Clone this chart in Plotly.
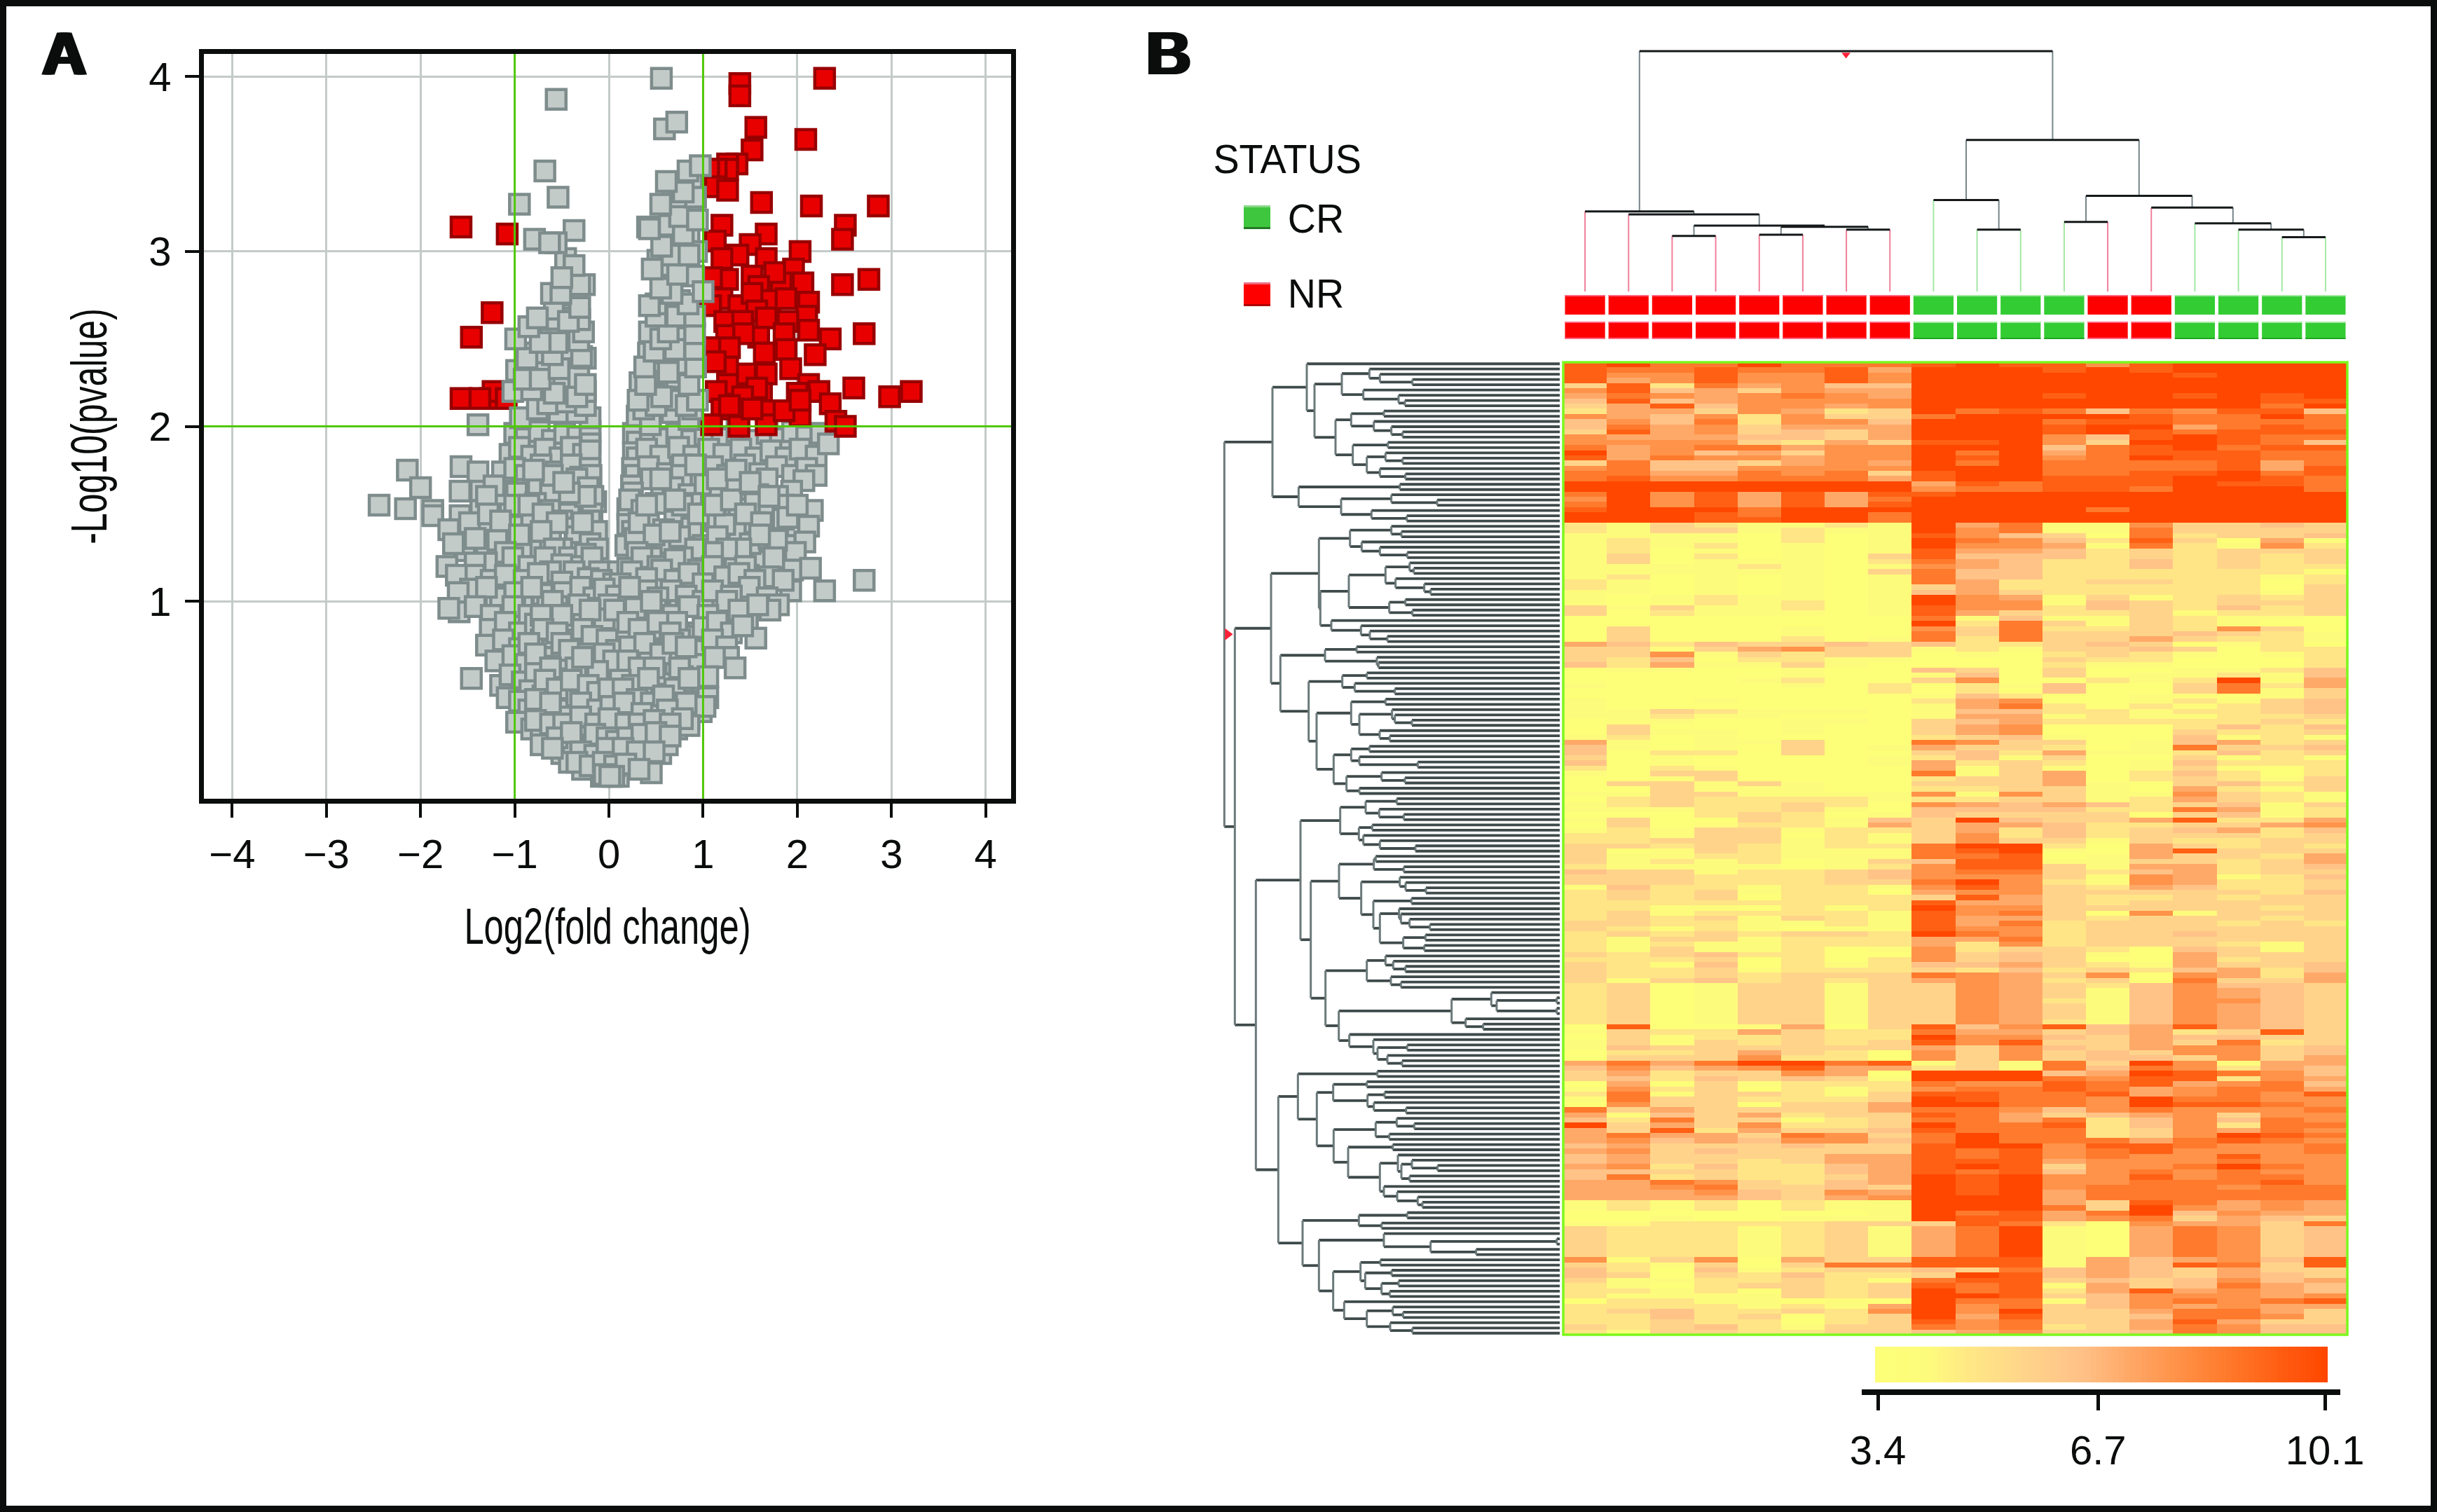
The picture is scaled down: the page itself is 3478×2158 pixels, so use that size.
import numpy as np
import plotly.graph_objects as go

W, H = 3478, 2158
def xp(px): return px / W
def yp(py): return 1 - py / H

# ---------- Panel A: volcano ----------
X_TICKS = [-4, -3, -2, -1, 0, 1, 2, 3, 4]
Y_TICKS = [1, 2, 3, 4]
FC_CUTS = [-1, 1]
P_CUT = 2

GREY_LOW = [
(-1.0,1.96),(-.88,1.93),(-.74,1.97),(-.6,1.92),(-.47,1.96),(-.33,1.94),(-.2,1.97),(-.2,1.9),(.26,1.96),(.3,1.91),(.44,1.97),(.58,1.93),(.72,1.96),(.88,1.92),(1.02,1.95),(1.2,1.93),(1.36,1.97),(1.52,1.92),(1.68,1.96),(1.82,1.93),(1.95,1.97),(2.1,1.94),(2.25,1.96),
(-1.05,1.84),(-.95,1.88),(-.82,1.83),(-.68,1.87),(-.52,1.82),(-.4,1.88),(-.27,1.84),(-.2,1.86),(.26,1.85),(.3,1.82),(.4,1.87),(.55,1.83),(.74,1.88),(.9,1.83),(1.06,1.87),(1.22,1.84),(1.4,1.87),(1.56,1.82),(1.72,1.86),(1.88,1.82),(2.03,1.87),(2.2,1.83),(2.33,1.9),
(-1.57,1.77),(-1.39,1.74),(-1.13,1.74),(-2.14,1.75),(-1.0,1.76),(-.88,1.72),(-.72,1.78),(-.56,1.74),(-.4,1.78),(-.3,1.71),(-.2,1.76),(-.19,1.72),(.25,1.76),(.28,1.72),(.42,1.77),(.62,1.73),(.78,1.78),(.95,1.72),(1.1,1.77),(1.26,1.72),(1.44,1.78),(1.6,1.73),(1.78,1.77),(1.95,1.72),(2.1,1.76),(2.2,1.72),
(-2.0,1.65),(-1.58,1.63),(-1.36,1.63),(-1.11,1.63),(-.88,1.64),(-.67,1.71),(-.34,1.7),(-.5,1.61),(-.35,1.56),(-.14,1.57),(.56,1.61),(.77,1.72),(.45,1.7),(1.46,1.64),(1.68,1.7),(2.07,1.69),(1.94,1.63),(1.79,1.6),
(-1.22,1.66),(-.98,1.62),(-.75,1.67),(-.62,1.62),(-.22,1.65),(-.17,1.6),(.24,1.66),(.25,1.62),(.68,1.65),(.85,1.61),(1.02,1.67),(1.18,1.62),(1.32,1.67),(1.58,1.61),
(-2.44,1.55),(-2.16,1.53),(-1.87,1.52),(-1.87,1.49),(-1.36,1.52),(-1.58,1.49),(-.9,1.49),(2.05,1.5),(2.16,1.52),
(-1.2,1.55),(-1.05,1.5),(-.78,1.56),(-.62,1.52),(-.3,1.55),(-.42,1.5),(-.18,1.5),(.2,1.53),(.22,1.58),(.35,1.52),(.5,1.56),(.72,1.5),(.88,1.56),(1.05,1.5),(1.22,1.55),(1.38,1.5),(1.55,1.56),(1.7,1.5),(1.85,1.55),
(-1.7,1.41),(-1.32,1.43),(-1.13,1.37),(1.38,1.4),(2.0,1.4),(1.13,1.46),(.7,1.46),
(-1.48,1.45),(-1.0,1.43),(-.82,1.45),(-.65,1.42),(-.5,1.46),(-.36,1.42),(-.2,1.46),(-.13,1.4),(.2,1.44),(.25,1.4),(.42,1.45),(.58,1.41),(.88,1.42),(1.23,1.44),(1.55,1.45),(1.72,1.42),(1.85,1.47),(2.12,1.43),
(-1.53,1.29),(-1.3,1.31),(-1.17,1.24),(-.35,1.37),(-.35,1.28),(.44,1.37),(.89,1.24),(1.34,1.25),(1.8,1.27),(1.62,1.23),
(-1.65,1.33),(-1.42,1.36),(-1.18,1.35),(-.98,1.34),(-.8,1.3),(-.62,1.36),(-.5,1.3),(-.2,1.33),(-.12,1.3),(.18,1.32),(.28,1.36),(.6,1.31),(.75,1.37),(1.0,1.32),(1.15,1.37),(1.5,1.33),(1.7,1.36),(1.9,1.32),(2.08,1.34),(1.98,1.28),
(-1.3,1.6),(-1.0,1.55),(-.85,1.55),(-.7,1.5),(-.55,1.45),(-.28,1.45),(-.25,1.6),(-.42,1.62),(-.6,1.72),(-.48,1.68),(-.8,1.75),(-1.28,1.5),(-1.15,1.46),(-.95,1.38),(-.72,1.4),(-.58,1.3),(-.42,1.25),(-.25,1.27),(-.3,1.2),(-.6,1.12),(-.4,1.1),(-.7,1.1),(-.93,1.27),(-1.1,1.28),(-1.3,1.22),(-1.52,1.12),(-1.38,1.02),(-1.2,1.0),(-.92,1.02),(-.7,1.04),
(.32,1.45),(.48,1.38),(.65,1.4),(.78,1.55),(.95,1.5),(1.12,1.55),(1.3,1.58),(1.45,1.5),(1.62,1.45),(1.78,1.35),(1.6,1.38),(1.4,1.3),(1.25,1.3),(1.1,1.28),(.92,1.3),(.78,1.25),(.62,1.22),(.45,1.25),(.3,1.28),(.4,1.55),(.55,1.7),(.7,1.58),(.92,1.78),(1.15,1.7),(1.35,1.75),(1.5,1.68),(1.7,1.6),(1.9,1.48),(2.0,1.55),(1.95,1.18),(1.75,1.25),(1.62,1.08),(1.45,1.0),(1.2,1.1),(.95,1.18),(.75,1.02),(.58,1.12),(.3,1.12),(1.15,.98),(1.3,.92),(1.48,1.15),(.95,.82),(1.12,.72),(1.0,.65),
(-1.72,1.2),(-1.42,1.22),(-1.02,1.25),(-.85,1.2),(-.68,1.25),(-.5,1.21),(-.18,1.25),(-.1,1.17),(.1,1.17),(.2,1.19),(.35,1.25),(.52,1.2),(.7,1.24),(1.1,1.2),(1.45,1.2),
(-1.43,1.15),(-.62,1.17),(-.37,1.17),(.24,1.17),(.56,1.18),(1.23,1.14),(1.7,1.14),(2.14,1.19),(2.71,1.12),(2.29,1.06),(1.93,1.06),
(-1.62,1.15),(-1.25,1.12),(-1.1,1.15),(-.9,1.12),(-.75,1.16),(-.5,1.11),(-.22,1.13),(-.08,1.12),(.05,1.1),(.12,1.1),(.4,1.13),(.7,1.12),(.85,1.16),(1.0,1.1),(1.38,1.16),(1.55,1.12),(1.85,1.12),
(.4,1.06),(.66,1.06),(-1.15,1.02),(-1.47,1.07),(-.65,.99),(1.49,1.08),
(-1.6,1.05),(-1.3,1.08),(-1.0,1.05),(-.82,1.08),(-.48,1.05),(-.3,1.08),(-.16,1.02),(-.05,1.07),(.08,1.03),(.22,1.08),(.52,1.02),(.82,1.03),(1.0,1.0),(1.1,1.06),(1.3,1.03),(1.68,1.02),(1.8,.98),
(-1.59,.94),(-1.7,.96),(1.71,.95),(1.47,.89),(1.25,1.0),(.33,.91),(-.25,.89),
(-1.42,.97),(-1.25,.92),(-1.02,.97),(-.85,.92),(-.55,.97),(-.4,.93),(-.12,.96),(0,.98),(.12,.92),(.5,.95),(.68,.92),(.85,.97),(1.05,.92),(1.38,.95),(1.58,.98),
(-1.26,.84),(-.63,.84),(.22,.84),(.85,.8),(1.56,.79),
(-1.1,.88),(-.95,.82),(-.78,.87),(-.48,.88),(-.36,.82),(-.1,.85),(.02,.82),(.1,.88),(.42,.86),(.58,.83),(.72,.88),(1.0,.85),(1.15,.88),(1.3,.82),(1.42,.86),
(-1.3,.75),(-1.12,.78),(-.95,.73),(-.72,.78),(-.6,.72),(-.32,.78),(-.15,.74),(0,.76),(.15,.78),(.3,.72),(.48,.78),(.62,.73),(.75,.78),(.95,.72),(1.1,.78),(1.25,.74),
(-.31,.72),(-.1,.69),(.28,.68),(.81,.67),(1.27,.68),(1.34,.62),
(-1.2,.66),(-1.02,.69),(-.88,.64),(-.7,.68),(-.55,.63),(-.42,.67),(-.2,.63),(.0,.66),(.13,.62),(.42,.67),(.56,.63),(.68,.7),(.95,.64),(1.12,.68),
(-1.46,.56),(-.62,.56),(-.14,.56),(.22,.59),
(-1.15,.52),(-1.05,.58),(-.92,.54),(-.78,.59),(-.48,.54),(-.3,.58),(-.02,.54),(.08,.58),(.35,.55),(.5,.58),(.62,.53),(.78,.57),(.92,.54),(1.05,.57),
(-.84,.49),(-.05,.44),(.49,.47),
(-1.08,.45),(-.95,.43),(-.7,.46),(-.55,.42),(-.38,.46),(-.22,.43),(.08,.48),(.2,.43),(.35,.47),(.65,.44),(.78,.48),(.92,.43),(1.05,.45),
(-.85,.38),(-.7,.33),(-.55,.38),(-.42,.34),(-.2,.37),(-.05,.33),(.1,.37),(.25,.33),(.42,.38),(.55,.34),(.72,.38),(.85,.33),(.98,.37),(-.98,.31),(1.02,.4),
(-.6,.22),(-.09,.24),(.13,.24),
(-.82,.27),(-.72,.22),(-.45,.28),(-.32,.22),(-.22,.27),(.02,.28),(.28,.22),(.42,.27),(.58,.22),(.72,.27),(.85,.29),
(.25,.14),(-.72,.18),(-.5,.13),(-.38,.18),(-.22,.13),(-.08,.18),(.05,.13),(.4,.18),(.55,.13),(.62,.18),
(-.42,.08),(-.28,.04),(-.15,.08),(0,.06),(.12,.09),(.25,.05),(.38,.08),(.45,.02),(-.08,.0),(.1,.0),(-.02,.03),
(-.6,1.0),(-.32,.98),(-.05,.9),(.06,.95),(.28,.96),(.45,1.0),(-.72,.92),(-.5,.92),(-.2,.95),(.2,.88),(.32,.84),(.52,.88),(.65,.82),(-.7,.84),(-.55,.82),(-.28,.84),(-.18,.8),(-.02,.78),(.08,.72),(.22,.74),(.38,.76),(.55,.7),(.68,.76),(.82,.74),(-.85,.76),(-.5,.76),(-.42,.72),(-.22,.7),(-.05,.7),(.05,.66),(.2,.66),(.32,.62),(.48,.62),(.75,.62),(-.78,.7),(-.62,.62),(-.35,.62),(-.12,.6),(-.28,.68),(.12,.55),(.25,.52),(.42,.56),(.7,.5),(.85,.56),(-.68,.55),(-.55,.5),(-.4,.55),(-.22,.52),(-.12,.48),(0,.5),(.15,.5),(.3,.44),(.45,.42),(.58,.46),(.82,.42),(-.78,.44),(-.62,.42),(-.3,.42),(-.12,.38),(.02,.4),(.16,.42),(.35,.36),(.62,.38),(.78,.33),(-.78,.32),(-.62,.3),(-.48,.3),(-.3,.34),(-.14,.3),(0,.33),(.18,.3),(.32,.3),(.48,.32),(.65,.3),(-.55,.22),(-.4,.25),(-.15,.24),(-.02,.22),(.08,.2),(.2,.22),(.35,.24),(.5,.25),(.65,.23),(-.6,.16),(-.3,.14),(-.15,.12),(-.02,.16),(.15,.16),(.3,.14),(.48,.14),(-.34,.08),(-.2,.06),(-.06,.08),(.06,.06),(.18,.07),(.32,.04),
(-.05,.01),(.05,.0),(.01,0.0),
]
RED = [
(2.29,3.99),(1.39,3.96),(1.39,3.89),(1.56,3.71),(2.09,3.64),(1.52,3.58),(1.36,3.5),(1.26,3.5),(1.26,3.47),(1.14,3.47),(1.06,3.47),
(1.13,3.37),(1.26,3.35),(1.62,3.28),(2.15,3.26),(2.86,3.26),(2.51,3.15),(2.48,3.07),(1.2,3.15),(1.13,3.06),(-1.57,3.14),(-1.08,3.10),
(1.67,3.10),(1.5,3.04),(2.03,3.0),(1.37,2.98),(1.2,2.96),(1.67,2.96),(1.96,2.90),(2.76,2.84),(2.48,2.81),(1.26,2.84),(1.52,2.86),(1.83,2.82),
(2.06,2.82),(1.76,2.88),(1.09,2.85),(1.59,2.8),(1.2,2.73),(1.38,2.69),(1.71,2.72),(1.88,2.73),(2.12,2.71),(1.52,2.76),(1.08,2.69),(2.1,2.63),
(1.23,2.6),(1.57,2.66),(1.9,2.6),(1.42,2.6),(1.67,2.62),(-1.24,2.65),(-1.46,2.51),(2.71,2.53),(2.35,2.5),(2.12,2.55),(1.59,2.51),(1.25,2.52),
(1.86,2.53),(1.43,2.53),(1.12,2.45),(1.65,2.42),(2.19,2.41),(1.88,2.44),(1.28,2.45),(1.93,2.33),(1.45,2.3),(1.67,2.3),(1.26,2.34),(1.13,2.37),
(2.12,2.24),(1.26,2.24),(1.62,2.19),(2.23,2.2),(2.6,2.22),(3.21,2.2),(2.98,2.17),(1.57,2.22),(2.0,2.19),(1.42,2.17),(1.14,2.2),(2.35,2.13),
(2.03,2.06),(1.2,2.1),(1.67,2.09),(1.38,2.06),(2.41,2.03),(2.51,2.0),(1.38,2.0),(1.67,2.01),(1.09,2.01),(1.52,2.1),(1.86,2.09),(2.03,2.15),(1.28,2.12),
(-1.57,2.16),(-1.26,2.16),(-1.23,2.2),(-1.37,2.16),(-1.09,2.16),
]
GREY_HIGH = [
(-1.39,2.01),(-.94,2.05),(-.2,2.05),(-.53,2.08),(-.34,2.08),(-.76,2.1),(.3,2.06),(.44,2.01),(.67,2.08),(.85,2.04),(.89,2.1),
(-1.02,2.2),(-.98,2.32),(-.65,2.13),(-.45,2.14),(-.25,2.12),(-.62,2.27),(-.48,2.25),(-.42,2.35),(-.7,2.36),(-.78,2.42),(-.67,2.55),(-.55,2.6),(-.45,2.68),(-.58,2.67),(-.38,2.5),(-.62,2.5),(-.45,2.43),(-.38,2.73),(-.42,2.82),(-.35,2.75),
(.37,2.1),(.5,2.12),(.72,2.15),(.82,2.12),(.33,2.25),(.48,2.3),(.72,2.28),(.78,2.36),(.55,2.37),(.42,2.42),(.82,2.5),(.75,2.55),(.6,2.6),(.8,2.62),(.58,2.7),(.75,2.72),(.6,2.88),(.52,2.95),(.65,2.92),(.8,2.93),(.9,2.86),(.72,3.05),(.85,3.08),(.93,3.0),(.64,3.15),(.86,3.25),(.68,3.3),(.74,3.27),(.88,3.4),
(-.58,2.19),(-.25,2.2),(-.34,2.17),(-.82,2.21),(.31,2.15),(.56,2.17),(.94,2.15),(-.9,2.27),(-.73,2.27),(-.32,2.28),(-.25,2.24),(.39,2.24),(.85,2.24),
(-.53,2.33),(.38,2.34),(.63,2.31),(.92,2.34),(-.87,2.39),(-.25,2.39),(-.6,2.41),(-.29,2.4),(.48,2.43),(.7,2.44),(.91,2.44),
(-.55,2.48),(-.99,2.5),(-.73,2.48),(-.32,2.49),(.43,2.54),(.55,2.5),(.63,2.54),(.91,2.53),(-.27,2.54),(-.85,2.57),
(-.76,2.62),(-.31,2.61),(-.43,2.60),(.5,2.63),(.72,2.63),(.91,2.63),(.84,2.70),(-.31,2.68),(.5,2.70),(.43,2.69),
(-.26,2.81),(-.31,2.81),(-.61,2.76),(-.51,2.76),(.67,2.8),(.67,2.76),(1.0,2.77),(.55,2.79),(.46,2.90),(.73,2.87),(-.46,2.96),(-.37,2.92),(-.5,2.85),
(.67,2.98),(.85,2.98),(.56,3.03),(-.37,3.12),(-.79,3.07),(-.56,3.05),(-.63,3.05),(.41,3.14),(.43,3.13),(.79,3.10),(.75,3.20),(.94,3.18),
(.55,3.27),(.92,3.31),(.79,3.34),(.61,3.40),(.84,3.46),(.97,3.49),(-.95,3.27),(-.54,3.31),(-.68,3.46),(.59,3.70),(.72,3.74),(-.56,3.87),(.557,3.99),
]

# ---------- Panel B: heatmap ----------
ZMIN, ZMAX = 3.4, 10.1
COLOR_TICKS = [3.4, 6.7, 10.1]
COLUMN_STATUS = ["NR"]*8 + ["CR"]*4 + ["NR"]*2 + ["CR"]*4
# Each row: 18 shade levels (0 = palest, 9 = darkest)
HEAT_ROWS = """89779777 8988689999
87787785 9998989999
86686686 9999998999
85686686 9999999999
38275644 9999999999
68453655 9999999999
57656765 9998998989
48456666 9999999988
35846656 9999999979
25536523 9787476884
65462633 7999987797
46472664 9997887777
47563555 9998995787
38563435 9998987888
65554435 9996489877
66663253 8896399874
75677566 9994789788
95645366 9795788877
85766566 9896798877
37443565 9797777857
67446666 9997777858
77557673 8997788978
78667775 8998889987
99999999 5878889887
99999999 6778879997
79685858 8999999999
69685857 9999999999
79685858 9999999999
89997999 9999799999
99987997 9999999999
99988997 9999999999
21321121 9571163343
21331211 9671173333
11110201 8643072334
12110201 9764283051
12120101 9665172162
12010101 8554232333
13020103 8444232323
13011102 7542242323
11112101 6542242322
11111103 7442222221
12010101 7442222212
21010101 7522332202
21010101 3522222203
11010101 4532222213
10121101 9651312323
10121201 9661432333
31311201 8662432423
30211101 8532231223
00000000 7141132110
00000000 9273132100
03000100 6372232630
03000100 7373334321
03000201 7273353221
54243343 4223430120
33135633 1213343022
33613233 0102321012
32402211 0003220002
42511310 0002110002
01100100 4303001124
00000100 1403011214
00001200 3600212915
10000102 0214003725
00000002 0204003713
00000000 1420011013
10010000 2560012134
10000000 1572021234
11321110 1442212234
11211000 1551211223
01100110 3452222232
03000100 3560002424
03110100 3560003223
12010000 2341004121
51011300 7633014523
41010301 5332017334
40220300 3425112423
30100001 2413003121
40100001 5232014222
20210000 5131013102
10330000 7135024202
00130000 2335023213
03313100 3335103423
00311100 2233105213
11331111 6163116321
02322221 2233125321
12322320 6545423413
11122310 4444227512
00023201 4333303412
13003214 3943358225
03012215 3554223356
12133122 3524234524
22133021 3624233323
22333121 3633132233
33232122 7992053232
30132111 7891058333
31122111 7780153325
31212013 4881133235
21111012 6883155234
43312234 6773245233
33322234 6663165124
33322233 7962165223
14221221 6863254223
23231220 5663333324
23230222 3853223233
22222222 8553233333
22110212 9663333323
23122221 8673061333
23231321 8553233323
33221121 8572333232
32121011 8662333333
23232332 9762334333
21331222 5572333333
21211222 5262333213
21311201 6233204313
32342200 6343105333
22230202 6343005233
32140212 4453215334
32231222 3242324524
32232333 7653606525
31342323 5652307335
23013313 3653246443
23013313 3653146543
23013313 3653146543
23013313 3652146643
23013313 3653146543
23013313 3653146543
23013313 3653146543
23013313 3652146543
08001503 8468458543
13225322 7553452383
03122322 9664354433
13132323 8683353723
14333333 5364356634
02235320 6363436634
03336220 6363443635
57579978 1317396155
46456855 2317476254
35233650 9994598764
34243431 9997688265
05031222 7668785674
16230212 6778756775
27133213 8877856768
17332223 9877697766
06330335 9977698876
73533335 7764676667
51435233 8753456366
42733123 7757246476
93536223 9778246277
53825334 8777236576
57553763 7977236987
56454664 7977757876
45333433 8996887667
56343333 8786786667
45333355 8786766866
45332355 8885666766
56242245 8983667976
44332245 8784676766
47232235 9896686776
55763245 9896677786
55673343 9896777677
55564365 9895777777
55554356 9995777777
12120211 9995387565
12120211 9997396565
00000001 9785794655
00100111 9885673543
11222233 3872065537
32221231 5791057634
32221231 5791057634
32221231 5791057634
32221231 5791057634
32221231 5791057634
32221231 5791057634
61360533 8881545648
32130377 8881548738
42041233 4374543533
43032422 3984543543
31122321 7883434645
21023323 8781534754
22120323 9782585654
21111323 9983466656
02211010 9771467678
22221215 9673465655
23422326 9693357753
22423023 9583347763
22322023 8673358533
32342133 7672357644
21332233 4563347644""".split("\n")
HEAT_Z = [[ZMIN + int(c) * (ZMAX - ZMIN) / 9 for c in r.replace(" ", "")] for r in HEAT_ROWS]
COLORSCALE = [[0, "#fdff78"], [.11, "#fdfb7c"], [.22, "#ffe586"], [.33, "#ffd48a"], [.45, "#ffc288"],
              [.56, "#ffa868"], [.67, "#ff9248"], [.78, "#ff7a2c"], [.89, "#ff6014"], [1, "#ff4700"]]

# Dendrograms: node = (merge position, child, child); 0 = a leaf
TOP_LEFT = (845,0,(857,0,(902,(943,0,0),(907,(938,0,0),(918,0,0)))))
TOP_RIGHT = (560,(800,0,(918,0,0)),(783,(887,0,0),(830,0,(893,0,(918,0,(948,0,0))))))
TOP_TREE = (205, TOP_LEFT, TOP_RIGHT)
TOP_LEAF_POS = 1165

S_A = (435,0,(468,(585,(703,0,(748,0,(887,0,0))),(677,0,(828,0,(855,0,0)))),
       (558,(625,(765,0,0),(722,0,(797,0,(845,0,0)))),(632,(782,0,0),(692,(772,0,(845,0,0)),(748,0,(857,0,0)))))))
S_B = (400,(833,0,0),(582,(797,0,(993,0,0)),(712,0,(863,0,0))))
S_T1 = (288,S_A,S_B)
S_G = (620,(797,0,(840,0,0)),(670,0,(748,0,(865,0,0))))
S_I = (615,(772,(875,0,(893,0,0)),(815,0,(938,0,(965,0,0)))),(788,(857,0,0),(887,0,0)))
S_J = (540,0,(667,0,(705,0,(780,0,0))))
S_E = (487,S_G,(493,S_I,S_J))
S_K = (513,(648,0,0),(735,0,(742,0,0)))
S_M = (587,(692,0,0),(640,0,(812,0,0)))
S_O = (625,(772,0,0),(660,(800,0,(812,0,(885,0,0))),(747,0,(790,0,0))))
S_P = (550,(625,(703,0,0),(660,0,(910,0,0))),(605,(755,0,(855,0,0)),(660,0,0)))
S_F = (322,S_K,(443,S_M,(477,S_O,S_P)))
S_C = (282,S_E,S_F)
S_Q = (578,(687,(820,0,0),(745,0,(850,0,0))),(658,(715,0,0),(677,0,(748,0,(900,0,0)))))
S_S = (573,(722,(730,0,0),(850,0,0)),(668,(833,0,(858,0,(945,0,0))),(720,(883,0,0),(748,(830,0,(838,0,(875,0,(962,0,0)))),(848,(943,0,0),(938,0,0))))))
S_U = (692,(772,0,(805,0,(857,0,0))),(795,0,(838,0,0)))
S_W = (1055,(1225,0,(1248,(1505,0,0),(1505,0,0))),(1115,0,(1190,0,0)))
S_X = (617,0,(720,0,(738,(865,0,0),(780,0,(843,0,0)))))
S_R = (408,S_Q,(452,S_S,(515,S_U,(572,S_W,S_X))))
S_BB = (548,(692,0,0),(695,(768,0,0),(722,0,(860,0,0))))
S_CC = (550,(730,(820,0,(895,0,0)),(788,0,0)),(612,(803,0,0),(748,(825,0,(840,(885,0,(995,0,0)),(875,0,0))),(765,0,(822,0,(910,0,(930,0,0)))))))
S_Y = (397,(737,0,0),(478,S_BB,S_CC))
S_EE = (765,0,(965,(1505,0,0),(1160,0,0)))
S_FF = (548,(665,(750,0,0),(685,(798,0,0),(755,(828,0,0),(790,0,0)))),(595,0,(692,(803,0,(847,0,0)),(792,0,(887,0,0)))))
S_Z = (417,(658,(865,0,0),(755,0,0)),(487,S_EE,S_FF))
SIDE_TREE = (82,S_T1,(127,S_C,(217,S_R,(313,S_Y,S_Z))))
SIDE_LEAF_POS = 1518


def walk(tree, leaf_pos):
    """Returns bars, inner stems and leaf stems as (pos, ord) polylines."""
    bars, inner, leaves = [], [], []
    count = [0]
    def rec(n):
        if n == 0:
            k = count[0]; count[0] += 1
            return float(k), leaf_pos, k
        p = n[0]
        got = [rec(c) for c in n[1:]]
        ords = [g[0] for g in got]
        bars.append((p, min(ords), p, max(ords)))
        for o, cp, leaf in got:
            (leaves if leaf is not None else inner).append((p, o, cp, o, leaf))
        return sum(ords) / len(ords), p, None
    root = rec(tree)
    return bars, inner, leaves, root[0], count[0]


def seq(segs):
    a, b = [], []
    for s in segs:
        a += [s[0], s[2], None]
        b += [s[1], s[3], None]
    return a, b


LAB = "Liberation Sans, Arial, sans-serif"
INK = "#0a0d0c"
fig = go.Figure()

def marker(fill, edge):
    return dict(symbol="square", size=28, color=fill, line=dict(color=edge, width=4.5))

for pts, fill, edge, nm in [(GREY_LOW, "#c3cbc9", "#7e8c8c", "grey low"),
                            (RED, "#e80000", "#980000", "red"),
                            (GREY_HIGH, "#c3cbc9", "#7e8c8c", "grey high")]:
    fig.add_trace(go.Scatter(x=[p[0] for p in pts], y=[p[1] for p in pts], mode="markers", name=nm,
                             marker=marker(fill, edge), xaxis="x", yaxis="y", cliponaxis=False))

fig.add_trace(go.Heatmap(z=HEAT_Z, x=list(range(18)), y=list(range(len(HEAT_Z))), xaxis="x2", yaxis="y2",
                         colorscale=COLORSCALE, zmin=ZMIN, zmax=ZMAX, showscale=False, xgap=0, ygap=0))

# top dendrogram
bars, inner, leaves, troot, _ = walk(TOP_TREE, TOP_LEAF_POS)
for i in range(18):
    seg = [s for s in leaves if s[4] == i]
    c = "#f07f9a" if COLUMN_STATUS[i] == "NR" else "#a4e8a4"
    a, b = seq(seg)
    fig.add_trace(go.Scatter(x=b, y=a, mode="lines", line=dict(color=c, width=2), xaxis="x2", yaxis="y3"))
a, b = seq(inner)
fig.add_trace(go.Scatter(x=b, y=a, mode="lines", line=dict(color="#76858a", width=2), xaxis="x2", yaxis="y3"))
a, b = seq(bars)
fig.add_trace(go.Scatter(x=b, y=a, mode="lines", line=dict(color="#15191a", width=3), xaxis="x2", yaxis="y3"))
fig.add_trace(go.Scatter(x=[troot], y=[TOP_TREE[0] + 14], mode="markers", xaxis="x2", yaxis="y3",
                         marker=dict(symbol="triangle-down", size=11, color="#ff2038")))

# side dendrogram
bars, inner, leaves, sroot, nleaf = walk(SIDE_TREE, SIDE_LEAF_POS)
a, b = seq(leaves + inner)
fig.add_trace(go.Scatter(x=a, y=b, mode="lines", line=dict(color="#3f4a4a", width=3.8), xaxis="x3", yaxis="y4"))
a, b = seq(bars)
fig.add_trace(go.Scatter(x=a, y=b, mode="lines", line=dict(color="#6b797a", width=3), xaxis="x3", yaxis="y4"))
fig.add_trace(go.Scatter(x=[SIDE_TREE[0] + 14], y=[sroot], mode="markers", xaxis="x3", yaxis="y4",
                         marker=dict(symbol="triangle-right", size=15, color="#ff2038")))

# colour key
key = list(np.linspace(ZMIN, ZMAX, 80))
fig.add_trace(go.Heatmap(z=[key], x=key, y=[0], xaxis="x5", yaxis="y5", colorscale=COLORSCALE,
                         zmin=ZMIN, zmax=ZMAX, showscale=False))

shapes = []
# outer border
shapes.append(dict(type="rect", xref="paper", yref="paper", x0=0, x1=1, y0=0, y1=1,
                   line=dict(color=INK, width=18), layer="above"))
# threshold lines
for v in FC_CUTS:
    shapes.append(dict(type="line", xref="x", yref="paper", x0=v, x1=v, y0=yp(1140), y1=yp(77),
                       line=dict(color="#50c808", width=3), layer="above"))
shapes.append(dict(type="line", xref="paper", yref="y", x0=xp(291), x1=xp(1443), y0=P_CUT, y1=P_CUT,
                   line=dict(color="#50c808", width=3), layer="above"))
# status strips
for i, st in enumerate(COLUMN_STATUS):
    fill = "#ff0000" if st == "NR" else "#33cc33"
    lite = "#ff6684" if st == "NR" else "#a4e8a4"
    dark = "#ff6684" if st == "NR" else "#1fa51f"
    x0, x1 = i - .46, i + .46
    for top, bot in [(421, 449), (459, 484)]:
        shapes.append(dict(type="rect", xref="x2", yref="paper", x0=x0, x1=x1, y0=yp(bot), y1=yp(top),
                           fillcolor=fill, line_width=0))
        shapes.append(dict(type="rect", xref="x2", yref="paper", x0=x0, x1=x1, y0=yp(top + 2), y1=yp(top),
                           fillcolor=lite, line_width=0))
    shapes.append(dict(type="rect", xref="x2", yref="paper", x0=x0, x1=x1, y0=yp(484), y1=yp(482),
                       fillcolor=dark, line_width=0))
# heatmap frame
shapes.append(dict(type="rect", xref="paper", yref="paper", x0=xp(2231), x1=xp(3350), y0=yp(1905), y1=yp(517),
                   line=dict(color="#7cf81c", width=3.5), layer="above"))
# legend swatches
for top, bot, fill, lite, dark in [(293, 327, "#3ec63e", "#8ad88a", "#237a23"),
                                   (403, 437, "#ff0000", "#ee6a80", "#b00000")]:
    shapes.append(dict(type="rect", xref="paper", yref="paper", x0=xp(1775), x1=xp(1813), y0=yp(bot), y1=yp(top),
                       fillcolor=fill, line_width=0))
    shapes.append(dict(type="rect", xref="paper", yref="paper", x0=xp(1775), x1=xp(1813), y0=yp(top + 3), y1=yp(top),
                       fillcolor=lite, line_width=0))
    shapes.append(dict(type="rect", xref="paper", yref="paper", x0=xp(1775), x1=xp(1813), y0=yp(bot), y1=yp(bot - 3),
                       fillcolor=dark, line_width=0))

def note(text, x, y, size, bold=False, shadow=None):
    f = dict(size=size, family=LAB, color=INK)
    if shadow:
        f["shadow"] = shadow
    return dict(text=f"<b>{text}</b>" if bold else text, x=xp(x), y=yp(y), xref="paper", yref="paper",
                showarrow=False, xanchor="center", yanchor="middle", font=f)

heavy = "3px 0 0 #0a0d0c, -3px 0 0 #0a0d0c"
annots = [note("A", 92, 76, 88, True, heavy), note("B", 1668, 76, 88, True, heavy),
          note("STATUS", 1837, 227, 58), note("CR", 1878, 311, 58), note("NR", 1878, 418, 58)]

hidden = dict(visible=False, showgrid=False, zeroline=False)
fig.update_layout(
    width=W, height=H, margin=dict(l=0, r=0, t=0, b=0, autoexpand=False), paper_bgcolor="white", plot_bgcolor="white",
    showlegend=False, shapes=shapes, annotations=annots,
    xaxis=dict(domain=[xp(291), xp(1443)], range=[-4.30, 4.27], tickvals=X_TICKS, showgrid=True,
               gridcolor="#c3cbc9", gridwidth=3, zeroline=False, showline=True, mirror=True, linecolor=INK,
               linewidth=7, ticks="outside", ticklen=20, tickwidth=4, tickcolor=INK, ticklabelstandoff=2,
               tickfont=dict(size=58, family=LAB, color=INK),
               title=dict(text="Log2(fold change)", standoff=50, font=dict(size=72, family=LAB, color=INK))),
    yaxis=dict(domain=[yp(1140), yp(77)], range=[-0.128, 4.129], tickvals=Y_TICKS, showgrid=True,
               gridcolor="#c3cbc9", gridwidth=3, zeroline=False, showline=True, mirror=True, linecolor=INK,
               linewidth=7, ticks="outside", ticklen=20, tickwidth=4, tickcolor=INK, ticklabelstandoff=8,
               tickfont=dict(size=58, family=LAB, color=INK),
               title=dict(text="-Log10(pvalue)", standoff=38, font=dict(size=72, family=LAB, color=INK))),
    xaxis2=dict(domain=[xp(2231), xp(3350)], range=[-.5, 17.5], anchor="y2", **hidden),
    yaxis2=dict(domain=[yp(1905), yp(517)], range=[len(HEAT_Z) - .5, -.5], anchor="x2", **hidden),
    yaxis3=dict(domain=[yp(416), yp(64)], range=[1165, 180], anchor="x2", **hidden),
    xaxis3=dict(domain=[xp(1740), xp(2226)], range=[60, 1518], anchor="y4", **hidden),
    yaxis4=dict(domain=[yp(1905), yp(517)], range=[nleaf - 1 + .3, -.3], anchor="x3", **hidden),
    xaxis5=dict(domain=[xp(2657), xp(3340)], range=[3.158, 10.33], anchor="free", position=yp(1987),
                tickvals=COLOR_TICKS, ticktext=[str(v) for v in COLOR_TICKS], showgrid=False, zeroline=False,
                showline=True, linecolor=INK, linewidth=8, ticks="outside", ticklen=22, tickwidth=5,
                tickcolor=INK, ticklabelstandoff=7, tickfont=dict(size=58, family=LAB, color=INK)),
    yaxis5=dict(domain=[yp(1973), yp(1922)], range=[-.5, .5], anchor="x5", **hidden),
)

# The reference sets its titles in a condensed face; no condensed font is installed,
# so the same text is narrowed in the browser.
SQUEEZE = """
document.body.style.margin='0';document.body.style.background='white';
var gd=document.getElementById('{plot_id}');
function squeeze(){
  var rules=[['.xtitle',0.705],['.ytitle',0.695]];
  rules.forEach(function(r){gd.querySelectorAll(r[0]).forEach(function(t){
    if(!t.dataset.w){t.dataset.w=t.getComputedTextLength();}
    t.setAttribute('textLength',t.dataset.w*r[1]);t.setAttribute('lengthAdjust','spacingAndGlyphs');});});
  gd.querySelectorAll('.annotation-text').forEach(function(t){
    var s=t.textContent;
    if(s==='A'||s==='B')return;
    if(!t.dataset.w){t.dataset.w=t.getComputedTextLength();}
    t.setAttribute('textLength',t.dataset.w*0.96);t.setAttribute('lengthAdjust','spacingAndGlyphs');});
}
squeeze();setTimeout(squeeze,200);setTimeout(squeeze,800);
"""
fig.write_html("out.html", post_script=SQUEEZE, config={"displayModeBar": False})
